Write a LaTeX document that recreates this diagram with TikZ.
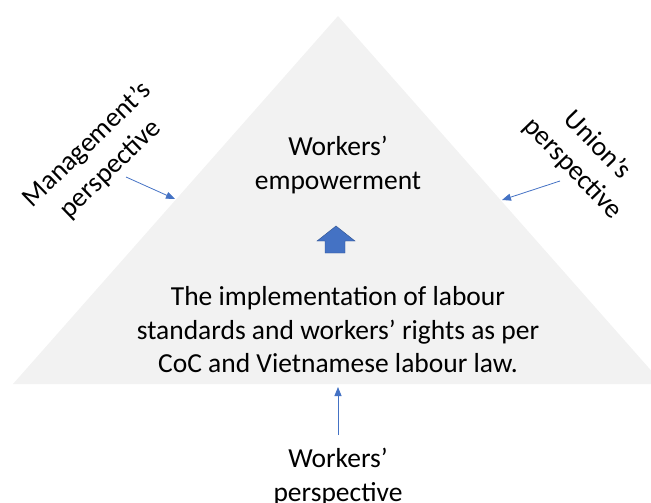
\documentclass[tikz,border=0pt]{standalone}
\usepackage{fontspec}
\setmainfont{Carlito}
\usetikzlibrary{arrows.meta}
\definecolor{trigray}{HTML}{F2F2F2}
\definecolor{accblue}{HTML}{4472C4}
\definecolor{accdark}{HTML}{2F528F}
\tikzset{
  lbl/.style={align=center, font=\fontsize{27.5}{33.5}\selectfont, inner sep=0pt},
  pointer/.style={draw=accblue, line width=0.8pt, -{Triangle[length=9pt,width=7pt]}},
}
\begin{document}
\begin{tikzpicture}[x=1pt,y=-1pt]
\useasboundingbox (0,0) rectangle (651,503);
\begin{scope}
\clip (0,0) rectangle (651,503);
\fill[trigray] (338,16) -- (663,384) -- (13,384) -- cycle;
\end{scope}
\node[lbl] (emp) at (338,165) {Workers’\\empowerment};
\node[lbl] (impl) at (338,330) {The implementation of labour\\standards and workers’ rights as per\\CoC and Vietnamese labour law.};
\node[lbl, rotate=44] (mgmt) at (99,157) {Management’s\\perspective};
\node[lbl, rotate=-46] (union) at (585,157) {Union’s\\perspective};
\node[lbl] (work) at (338,477) {Workers’\\perspective};
\fill[accblue, draw=accdark, line width=0.4pt] (325,253) -- (325,241) -- (317,241) -- (336,226) -- (355,241) -- (345,241) -- (345,253) -- cycle;
\coordinate (ls) at (126,177);
\coordinate (le) at (175,199);
\coordinate (rs) at (560,181);
\coordinate (re) at (502,200);
\coordinate (bs) at (338,435);
\coordinate (be) at (338,387);
\draw[pointer] (ls) -- (le);
\draw[pointer] (rs) -- (re);
\draw[pointer] (bs) -- (be);
\end{tikzpicture}
\end{document}
